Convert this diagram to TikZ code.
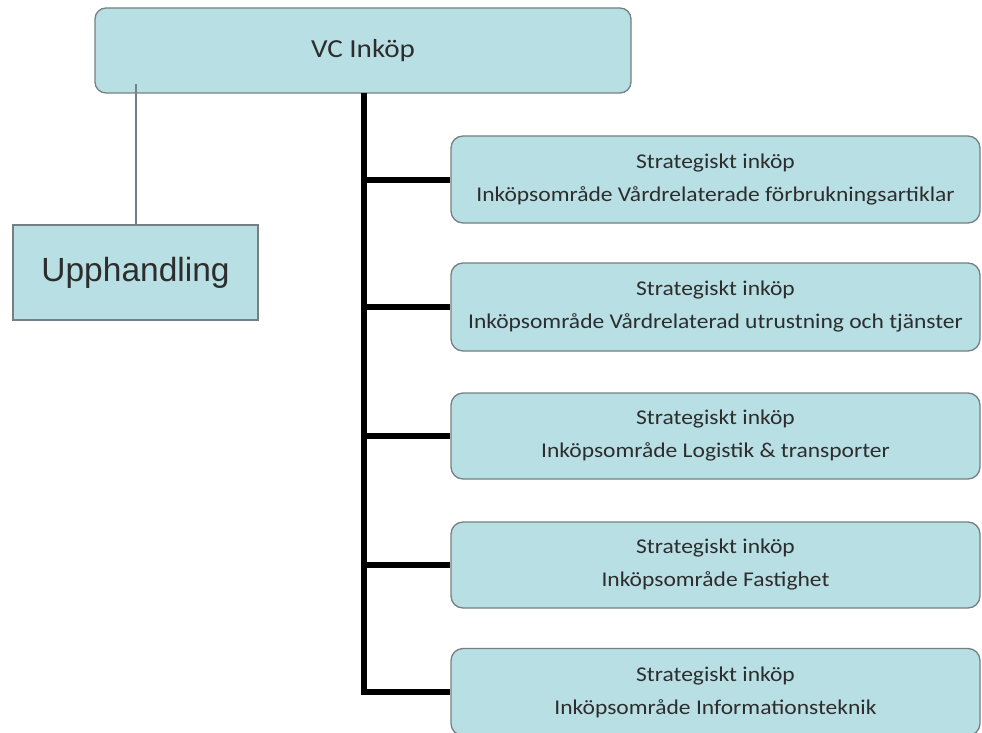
\documentclass[tikz,border=0pt]{standalone}
\usepackage{fontspec}
\newfontfamily\boxfont[FakeStretch=1.12]{Carlito}
\newfontfamily\arialfont{Liberation Sans}
\definecolor{boxfill}{RGB}{184,223,227}
\definecolor{boxline}{RGB}{118,128,130}
\definecolor{txt}{RGB}{45,45,45}
\begin{document}
\begin{tikzpicture}[x=1pt,y=-1pt,
  basebox/.style={draw=boxline,fill=boxfill,line width=1.3pt,inner sep=0pt,text=txt,align=center},
  childbox/.style={basebox,rounded corners=12pt,minimum width=529pt,minimum height=87pt,
     font=\boxfont\fontsize{21}{33}\selectfont},
  trunk/.style={line width=6pt,black},
  thin/.style={line width=1.5pt,boxline}]
\useasboundingbox (0,0) rectangle (982,733);
\node[basebox,rounded corners=11pt,minimum width=536pt,minimum height=85pt,
  font=\boxfont\fontsize{26}{30}\selectfont] (vc) at (363,50.5) {VC Inköp};
\node[basebox,minimum width=245pt,minimum height=95pt,
  font=\arialfont\fontsize{33.5}{36}\selectfont] (up) at (135.5,272.5) {Upphandling};
\node[childbox] (c1) at (715.5,179.5) {Strategiskt inköp\\Inköpsområde Vårdrelaterade förbrukningsartiklar};
\node[childbox,minimum height=88pt] (c2) at (715.5,307) {Strategiskt inköp\\Inköpsområde Vårdrelaterad utrustning och tjänster};
\node[childbox,minimum height=86pt] (c3) at (715.5,436) {Strategiskt inköp\\Inköpsområde Logistik \& transporter};
\node[childbox,minimum height=86pt] (c4) at (715.5,565) {Strategiskt inköp\\Inköpsområde Fastighet};
\node[childbox] (c5) at (715.5,692) {Strategiskt inköp\\Inköpsområde Informationsteknik};
\coordinate (t0) at (364,93);
\coordinate (tl) at (136,84);
\draw[thin] (tl) -- (up.north -| tl);
\draw[trunk] (t0) |- (c5.west);
\foreach \c in {c1,c2,c3,c4}{\draw[trunk] (t0 |- \c.west) -- (\c.west);}
\end{tikzpicture}
\end{document}
